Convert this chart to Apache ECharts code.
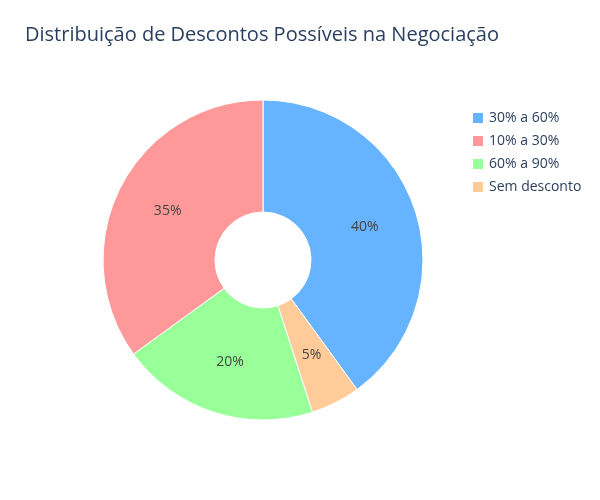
<!DOCTYPE html>
<html>
<head>
<meta charset="utf-8">
<script src="https://cdn.jsdelivr.net/npm/echarts@6/dist/echarts.min.js"></script>
<style>html,body{margin:0;padding:0;background:#fff}#chart{width:600px;height:500px}</style>
</head>
<body>
<div id="chart"></div>
<script>
// fatias no sentido horário a partir do topo
var categories = ['30% a 60%', 'Sem desconto', '60% a 90%', '10% a 30%'];
var values = [40, 5, 20, 35];
var colors = ['#66b3ff', '#ffcc99', '#99ff99', '#ff9999'];
var legendOrder = ['30% a 60%', '10% a 30%', '60% a 90%', 'Sem desconto'];

var chart = echarts.init(document.getElementById('chart'));

var option = {
  title: {
    text: 'Distribuição de Descontos Possíveis na Negociação',
    left: 20,
    top: 20,
    textStyle: {fontFamily: 'Open Sans, Arial', fontSize: 20, fontWeight: 'normal', color: '#2a3f5f'}
  },
  legend: {
    data: legendOrder,
    orient: 'vertical',
    left: 466,
    top: 106,
    itemWidth: 12,
    itemHeight: 12,
    itemGap: 9,
    icon: 'rect',
    textStyle: {fontFamily: 'Open Sans, Arial', fontSize: 14, color: '#2a3f5f'}
  },
  series: [{
    type: 'pie',
    center: [263, 260],
    radius: [48, 160],
    startAngle: 90,
    clockwise: true,
    avoidLabelOverlap: false,
    itemStyle: {borderColor: '#fff', borderWidth: 1},
    label: {
      position: 'inside',
      formatter: '{d}%',
      color: '#444',
      fontFamily: 'Open Sans, Arial',
      fontSize: 14
    },
    labelLine: {show: false},
    emphasis: {scale: false},
    data: categories.map(function (c, i) {
      return {name: c, value: values[i], itemStyle: {color: colors[i]}};
    })
  }]
};

chart.setOption(option);
</script>
</body>
</html>
